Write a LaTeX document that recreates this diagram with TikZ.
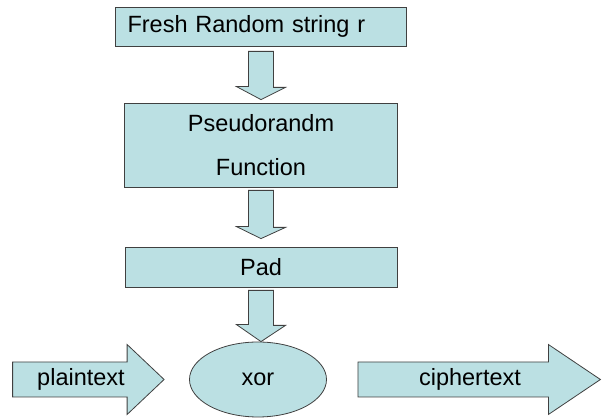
\documentclass[tikz,border=0pt]{standalone}
\usepackage{fontspec,tikz}
\setmainfont{Liberation Sans}
\usetikzlibrary{shapes.geometric}
\definecolor{boxfill}{RGB}{187,224,227}
\definecolor{boxline}{RGB}{64,64,64}

\begin{document}
\begin{tikzpicture}[x=1pt,y=-1pt,
  cbox/.style={draw=boxline,line width=0.8pt,fill=boxfill,rectangle,inner sep=0pt,font=\fontsize{23.5}{28}\selectfont},
  blockarrow/.style={draw=boxline,line width=0.8pt,fill=boxfill,line join=miter},
  lbl/.style={inner sep=0pt,font=\fontsize{23.5}{28}\selectfont}]
\path[use as bounding box] (0,0) rectangle (603,419);
\node[cbox,text width=267pt,inner xsep=12pt,align=left,minimum height=39pt] (fresh) at (261,26.5) {Fresh Random string r};
\node[cbox,minimum width=273pt,minimum height=84pt,align=center,font=\fontsize{23.5}{44}\selectfont] (prf) at (261,145) {Pseudorandm\\Function};
\node[cbox,minimum width=272pt,minimum height=40pt] (pad) at (261,267) {Pad};
\node[cbox,ellipse,minimum width=137pt,minimum height=75pt] (xor) at (258,379.5) {xor};
\draw[blockarrow] ([xshift=-12.5pt,yshift=-5pt]fresh.south) -- ++(25,0) -- ++(0,36) -- ++(12,0) -- ([yshift=3pt]prf.north) -- ++(-24.5,-13) -- ++(12,0) -- cycle;
\draw[blockarrow] ([xshift=-12.5pt,yshift=-3pt]prf.south) -- ++(25,0) -- ++(0,37) -- ++(12,0) -- ([yshift=8pt]pad.north) -- ++(-24.5,-12) -- ++(12,0) -- cycle;
\draw[blockarrow] ([xshift=-12.5pt,yshift=-3pt]pad.south) -- ++(25,0) -- ++(0,35) -- ++(12,0) -- (pad.south |- xor.north) -- ++(-24.5,-17) -- ++(12,0) -- cycle;
\draw[blockarrow] ([xshift=-25pt]xor.west) -- ++(-37,-35) -- ++(0,17.5) -- ++(-114.5,0) -- ++(0,35) -- ++(114.5,0) -- ++(0,17.5) -- cycle;
\draw[blockarrow] ([xshift=31pt,yshift=17.5pt]xor.east) -- ++(190.5,0) -- ++(0,-17.5) -- ++(52,35) -- ++(-52,35) -- ++(0,-17.5) -- ++(-190.5,0) -- cycle;
\node[lbl] (plain) at (81,379.5) {plaintext};
\node[lbl] (cipher) at (470,379.5) {ciphertext};
\end{tikzpicture}
\end{document}
